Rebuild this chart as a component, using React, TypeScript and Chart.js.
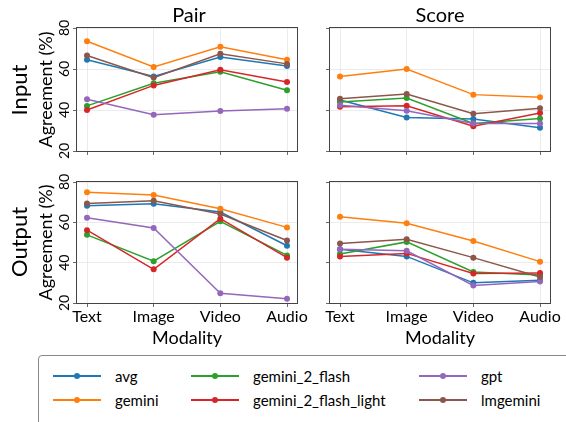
import React, { useEffect, useRef } from 'react';
import { Chart, registerables } from 'chart.js';

Chart.register(...registerables);

const FONT = 'Lato, "Open Sans", sans-serif';

const categories = ['Text', 'Image', 'Video', 'Audio'];
const models = ['avg', 'gemini', 'gemini_2_flash', 'gemini_2_flash_light', 'gpt', 'lmgemini'];
const colors = ['#1f77b4', '#ff7f0e', '#2ca02c', '#d62728', '#9467bd', '#8c564b'];
const yTicks = [20, 40, 60, 80];

// rows follow `models` order; columns follow `categories`
const inputPair = [
  [64.5, 56.3, 65.8, 61.5],
  [73.5, 61.0, 70.8, 64.5],
  [42.0, 53.0, 58.6, 49.6],
  [40.0, 52.0, 59.6, 53.7],
  [45.2, 37.7, 39.5, 40.6],
  [66.6, 55.8, 67.4, 62.5],
];
const inputScore = [
  [44.9, 36.4, 35.6, 31.3],
  [56.3, 60.0, 47.5, 46.2],
  [43.9, 45.8, 33.4, 35.9],
  [41.6, 42.1, 32.1, 38.5],
  [42.3, 39.6, 33.4, 33.4],
  [45.5, 47.8, 38.2, 40.9],
];
const outputPair = [
  [68.2, 69.2, 65.1, 48.4],
  [74.9, 73.6, 66.7, 57.5],
  [53.8, 40.7, 60.5, 43.6],
  [56.1, 36.7, 61.8, 42.5],
  [62.3, 57.2, 24.8, 22.1],
  [69.3, 70.7, 64.1, 51.0],
];
const outputScore = [
  [46.7, 43.1, 30.0, 31.3],
  [62.8, 59.5, 50.7, 40.5],
  [44.3, 50.3, 35.4, 33.9],
  [43.0, 44.6, 34.6, 34.9],
  [46.7, 45.9, 28.7, 30.7],
  [49.5, 51.6, 42.5, 32.9],
];

const framePlugin = {
  id: 'frame',
  afterDatasetsDraw(chart: any) {
    const { ctx, chartArea: a } = chart;
    ctx.save();
    ctx.strokeStyle = '#444';
    ctx.lineWidth = 1;
    ctx.strokeRect(Math.round(a.left) - 0.5, Math.round(a.top) - 0.5, Math.round(a.right - a.left) + 1, Math.round(a.bottom - a.top) + 1);
    ctx.restore();
  },
};

type PanelProps = {
  values: number[][];
  left: number;
  top: number;
  width: number;
  height: number;
  yWidth: number;
  xHeight: number;
  padRight: number;
  showX: boolean;
  showY: boolean;
};

function Panel(p: PanelProps) {
  const ref = useRef<HTMLCanvasElement | null>(null);
  useEffect(() => {
    if (!ref.current) return;
    const grid = { color: '#e6e6e6', lineWidth: 0.8, tickColor: '#444', tickLength: 4, drawTicks: true };
    const chart = new Chart(ref.current, {
      type: 'line',
      data: {
        datasets: models.map((m, i) => ({
          label: m,
          data: p.values[i].map((v, j) => ({ x: j, y: v })),
          borderColor: colors[i],
          backgroundColor: colors[i],
          borderWidth: 1.5,
          pointRadius: 3,
          pointHoverRadius: 3,
          pointBorderWidth: 0,
          tension: 0,
          order: models.length - i,
        })),
      },
      options: {
        animation: false,
        responsive: false,
        maintainAspectRatio: false,
        devicePixelRatio: 1,
        events: [],
        layout: { padding: { top: 12, right: p.padRight, left: 0, bottom: 0 } },
        plugins: { legend: { display: false }, tooltip: { enabled: false } },
        scales: {
          x: {
            type: 'linear',
            min: -0.15,
            max: 3.15,
            afterBuildTicks: (s: any) => {
              s.ticks = categories.map((_, i) => ({ value: i }));
            },
            afterFit: (s: any) => {
              s.height = p.xHeight;
            },
            ticks: {
              display: p.showX,
              callback: (v: any) => categories[v] ?? '',
              font: { family: FONT, size: 16 },
              color: '#000',
              padding: 0,
              maxRotation: 0,
              autoSkip: false,
            },
            grid,
            border: { display: false },
            title: {
              display: p.showX,
              text: 'Modality',
              font: { family: FONT, size: 18 },
              color: '#000',
              padding: { top: 0, bottom: 3 },
            },
          },
          y: {
            type: 'linear',
            min: 20,
            max: 80,
            afterBuildTicks: (s: any) => {
              s.ticks = yTicks.map((v) => ({ value: v }));
            },
            afterFit: (s: any) => {
              s.width = p.yWidth;
            },
            ticks: {
              display: p.showY,
              minRotation: 90,
              maxRotation: 90,
              crossAlign: 'center',
              padding: 0,
              font: { family: FONT, size: 14 },
              color: '#000',
              autoSkip: false,
            },
            grid,
            border: { display: false },
            title: {
              display: p.showY,
              text: 'Agreement (%)',
              font: { family: FONT, size: 18 },
              color: '#000',
              padding: { top: 35, bottom: 0 },
            },
          },
        },
      } as any,
      plugins: [framePlugin],
    });
    return () => chart.destroy();
  }, []);
  return (
    <canvas
      ref={ref}
      width={p.width}
      height={p.height}
      style={{ position: 'absolute', left: p.left, top: p.top, width: p.width, height: p.height }}
    />
  );
}

const textBase: React.CSSProperties = { position: 'absolute', fontFamily: FONT, color: '#000', whiteSpace: 'nowrap' };

function Centered({ x, y, size, rotate, children }: any) {
  return (
    <div
      style={{
        ...textBase,
        left: x,
        top: y,
        fontSize: size,
        lineHeight: 1,
        transform: `translate(-50%, -50%)${rotate ? ' rotate(-90deg)' : ''}`,
      }}
    >
      {children}
    </div>
  );
}

export default function App() {
  const legendCols = [53, 191, 419];
  const legendRows = [376, 400];
  return (
    <div style={{ position: 'fixed', left: 0, top: 0, width: 566, height: 422, background: '#fff', overflow: 'hidden' }}>
      <Panel values={inputPair} left={0} top={16} width={317} height={146} yWidth={77} xHeight={11} padRight={20} showX={false} showY={true} />
      <Panel values={inputScore} left={320} top={16} width={246} height={146} yWidth={10} xHeight={11} padRight={16} showX={false} showY={false} />
      <Panel values={outputPair} left={0} top={170} width={317} height={182} yWidth={77} xHeight={49} padRight={20} showX={true} showY={true} />
      <Panel values={outputScore} left={320} top={170} width={246} height={182} yWidth={10} xHeight={49} padRight={16} showX={true} showY={false} />

      <Centered x={189} y={14} size={20}>Pair</Centered>
      <Centered x={440} y={14} size={20}>Score</Centered>
      <Centered x={19} y={90} size={22} rotate>Input</Centered>
      <Centered x={19} y={242} size={22} rotate>Output</Centered>

      <div
        style={{
          position: 'absolute',
          left: 38,
          top: 355,
          width: 560,
          height: 90,
          border: '1px solid #888',
          borderRadius: 4,
          boxSizing: 'border-box',
        }}
      />
      {models.map((m, i) => {
        const cx = legendCols[Math.floor(i / 2)];
        const cy = legendRows[i % 2];
        return (
          <React.Fragment key={m}>
            <div style={{ position: 'absolute', left: cx, top: cy - 0.75, width: 48, height: 1.5, background: colors[i] }} />
            <div
              style={{
                position: 'absolute',
                left: cx + 24 - 3,
                top: cy - 3,
                width: 6,
                height: 6,
                borderRadius: 3,
                background: colors[i],
              }}
            />
            <div style={{ ...textBase, left: cx + 62, top: cy, fontSize: 15, lineHeight: 1, transform: 'translateY(-50%)' }}>{m}</div>
          </React.Fragment>
        );
      })}
    </div>
  );
}
